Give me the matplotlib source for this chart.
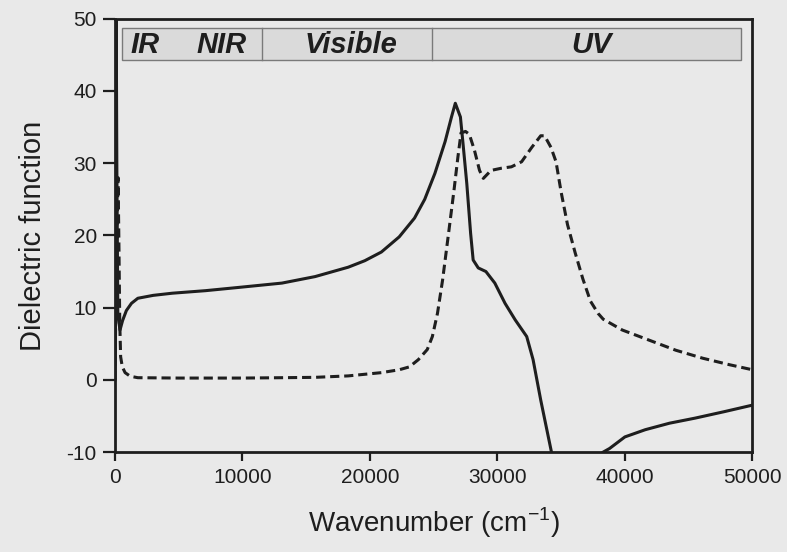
import matplotlib.pyplot as plt
from matplotlib.patches import Rectangle

plt.rcParams['font.family'] = ['Liberation Sans', 'DejaVu Sans']
plt.rcParams['mathtext.fontset'] = 'custom'
plt.rcParams['mathtext.rm'] = 'Liberation Sans'
plt.rcParams['axes.unicode_minus'] = False

wn_real1 = [0, 40, 80, 150, 230, 400, 600, 900, 1300, 1800, 3000, 4500, 7100,
            9700, 13100, 15700, 18300, 19600, 20900, 22300, 23500, 24300, 25100,
            25900, 26400, 26700, 27100, 27300, 27600, 27900, 28100, 28500, 29100,
            29800, 30600, 31400, 32300, 32800, 33400, 34300]
eps_real1 = [0, 4, 60, 30, 9.0, 6.9, 8.2, 9.6, 10.6, 11.3, 11.7, 12.0, 12.35,
             12.8, 13.4, 14.3, 15.6, 16.5, 17.7, 19.8, 22.4, 25.0, 28.6,
             33.0, 36.4, 38.3, 36.4, 32.8, 27.2, 20.3, 16.6, 15.5, 15.0,
             13.4, 10.6, 8.3, 6.0, 2.8, -2.8, -10.5]
wn_real2 = [38300, 38800, 40000, 41600, 43500, 45500, 47800, 50000]
eps_real2 = [-10, -9.5, -7.9, -6.9, -6.0, -5.3, -4.4, -3.5]

# imaginary part (dashed)
wn_imag = [0, 150, 250, 320, 380, 450, 580, 800, 1200, 1800, 5000, 10000, 13100,
           15700, 18300, 20900, 22300, 23100, 23800, 24500, 24900, 25300,
           25700, 26200, 26600, 26900, 27150, 27500, 27800, 28200, 28600,
           28900, 29500, 30300, 31100, 31900, 32700, 33400, 33700, 34200,
           34600, 35000, 35500, 36100, 36700, 37300, 37900, 38300, 39800,
           41900, 44000, 46100, 48200, 50000]
eps_imag = [0, 20, 28, 18, 8.0, 3.2, 1.8, 1.0, 0.5, 0.3, 0.25, 0.25, 0.3,
            0.35, 0.55, 1.0, 1.4, 1.8, 2.8, 4.2, 6.0, 9.2,
            13.8, 20.7, 26.3, 30.8, 34.2, 34.4, 34.0, 31.8, 29.0,
            27.9, 29.0, 29.3, 29.5, 30.2, 32.2, 33.8, 33.8, 32.2,
            30.2, 26.0, 21.5, 17.6, 14.0, 10.9, 9.2, 8.4, 6.9,
            5.5, 4.1, 3.0, 2.1, 1.4]

regions = ['IR', 'NIR', 'Visible', 'UV']
region_edges = [550, 11550, 24900, 49100]
label_x = [2400, 8400, 18500, 37400]

bg = '#e9e9e9'
ink = '#1e1e1e'

fig = plt.figure(figsize=(7.87, 5.52), dpi=100, facecolor=bg)
ax = fig.add_axes([0.146, 0.181, 0.81, 0.785], facecolor=bg)

ax.plot(wn_real1, eps_real1, color=ink, lw=2.2)
ax.plot(wn_real2, eps_real2, color=ink, lw=2.2)
ax.plot(wn_imag, eps_imag, color=ink, lw=2.2, dashes=(3, 1.6))

ax.set_xlim(0, 50000)
ax.set_ylim(-10, 50)
ax.set_xticks(range(0, 50001, 10000))
ax.set_yticks(range(-10, 51, 10))

# spectral region band at the top
y0, y1 = 44.3, 48.7
ax.add_patch(Rectangle((region_edges[0], y0), region_edges[-1] - region_edges[0], y1 - y0,
                       facecolor='#dadada', edgecolor='#7a7a7a', lw=1.0, zorder=3))
for xe in region_edges[1:3]:
    ax.plot([xe, xe], [y0, y1], color='#7a7a7a', lw=1.0, zorder=4)
for name, lx in zip(regions, label_x):
    ax.text(lx, 46.3, name, ha='center', va='center', fontsize=21,
            fontweight='bold', fontstyle='italic', color=ink, zorder=5)

for s in ax.spines.values():
    s.set_linewidth(2.0)
    s.set_color(ink)
ax.tick_params(axis='x', direction='out', length=6.5, width=1.6, colors=ink,
               labelsize=15, pad=5)
ax.tick_params(axis='y', direction='out', length=9, width=1.6, colors=ink,
               labelsize=15, pad=4)

ax.set_xlabel('Wavenumber (cm$^{-1}$)', fontsize=20, color=ink, labelpad=13)
ax.set_ylabel('Dielectric function', fontsize=21, color=ink, labelpad=14)

fig.savefig('out.png', dpi=100, facecolor=bg)
